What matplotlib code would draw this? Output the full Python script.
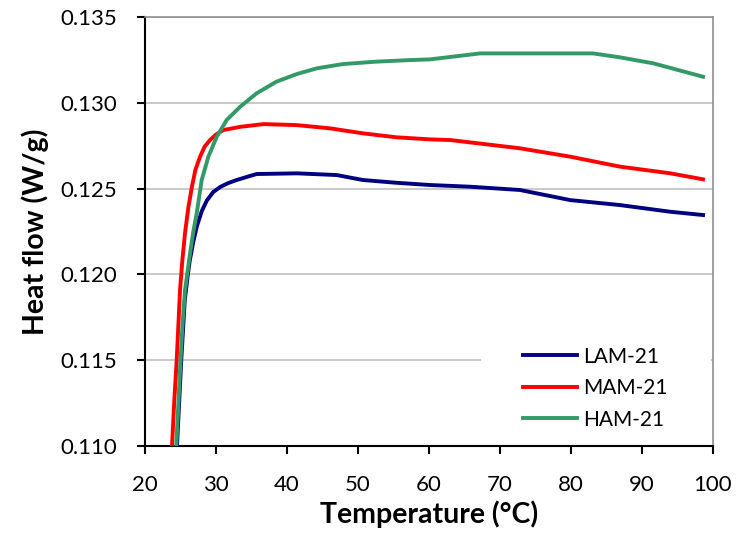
import matplotlib
matplotlib.use("Agg")
import matplotlib.pyplot as plt
from matplotlib.patches import Rectangle

plt.rcParams['font.family'] = ['Lato', 'DejaVu Sans']

# 温度 (°C) と熱流 (W/g) - 図から読み取った値
lam_t = [24.5, 24.8, 25.1, 25.6, 26.0, 26.3, 26.8, 27.3, 28.0, 28.7, 29.6, 30.6,
         31.7, 32.9, 35.7, 41.4, 47.0, 50.7, 55.4, 60.1, 65.8, 72.8, 79.9, 86.9,
         94.0, 98.6]
lam_q = [0.1100, 0.1125, 0.1150, 0.1185, 0.1199, 0.1208, 0.1219, 0.1228, 0.1237,
         0.1243, 0.1248, 0.1251, 0.12532, 0.1255, 0.12585, 0.12589, 0.12579,
         0.1255, 0.12534, 0.12521, 0.12511, 0.12492, 0.12433, 0.12404, 0.12365,
         0.12346]

mam_t = [23.8, 24.1, 24.46, 24.93, 25.25, 25.63, 26.1, 26.6, 27.1, 27.75, 28.4,
         29.15, 30.0, 31.0, 33.4, 36.7, 41.4, 46.1, 50.7, 55.4, 60.1, 63.0, 72.8,
         79.9, 86.9, 94.0, 98.6]
mam_q = [0.1100, 0.1125, 0.1150, 0.11909, 0.1208, 0.1224, 0.1239, 0.1251, 0.1261,
         0.12686, 0.12745, 0.12783, 0.12815, 0.12841, 0.1286, 0.12876, 0.1287,
         0.12851, 0.12822, 0.12799, 0.12787, 0.12783, 0.12735, 0.12686, 0.12628,
         0.12589, 0.12554]

ham_t = [24.4, 24.7, 25.0, 25.3, 25.63, 26.0, 26.34, 26.8, 27.28, 27.98, 28.92,
         30.1, 31.5, 33.4, 35.7, 38.5, 41.4, 44.2, 47.9, 52.6, 57.3, 60.1, 67.2,
         83.1, 86.9, 91.6, 98.6]
ham_q = [0.1100, 0.1125, 0.1150, 0.1172, 0.11909, 0.1202, 0.12123, 0.1225,
         0.12356, 0.1255, 0.12686, 0.12802, 0.1290, 0.12977, 0.13055, 0.13123,
         0.13168, 0.13201, 0.13226, 0.1324, 0.13249, 0.13253, 0.13288, 0.13288,
         0.13265, 0.1323, 0.13152]

x_ticks = [20, 30, 40, 50, 60, 70, 80, 90, 100]
y_ticks = [0.110, 0.115, 0.120, 0.125, 0.130, 0.135]

fig = plt.figure(figsize=(7.4, 5.37), dpi=100)
ax = fig.add_axes([0.196, 0.1695, 0.7675, 0.7988])

ax.plot(lam_t, lam_q, color='#000080', lw=2.8, label='LAM-21', zorder=3)
ax.plot(mam_t, mam_q, color='#ff0000', lw=2.8, label='MAM-21', zorder=3)
ax.plot(ham_t, ham_q, color='#339966', lw=2.8, label='HAM-21', zorder=3)

ax.set_xlim(20, 100)
ax.set_ylim(0.110, 0.135)
ax.set_xticks(x_ticks)
ax.set_yticks(y_ticks)
ax.set_yticklabels([f"{v:.3f}" for v in y_ticks])
ax.yaxis.grid(True, color='#c0c0c0', lw=1.2)
ax.set_axisbelow(True)

for s in ['left', 'bottom']:
    ax.spines[s].set_color('black')
    ax.spines[s].set_linewidth(1.5)
for s in ['top', 'right']:
    ax.spines[s].set_color('#909090')
    ax.spines[s].set_linewidth(1.2)

ax.tick_params(direction='out', length=6, width=1.5, labelsize=16)
ax.tick_params(axis='x', pad=15)
ax.tick_params(axis='y', pad=14)

ax.set_xlabel('Temperature (°C)', fontsize=20.5, fontweight='bold', labelpad=4)
ax.set_ylabel('Heat flow (W/g)', fontsize=20.5, fontweight='bold', labelpad=8)

# 凡例の白い領域（グリッド線を隠す）
ax.add_patch(Rectangle((0.592, 0.03), 0.405, 0.22, transform=ax.transAxes,
                       facecolor='white', edgecolor='none', zorder=2))

leg = ax.legend(loc='center left', bbox_to_anchor=(0.651, 0.135), frameon=False,
                fontsize=15, handlelength=2.6, borderaxespad=0, labelspacing=0.55,
                handletextpad=0.3, borderpad=0.4)

fig.savefig('out.png', dpi=100)
